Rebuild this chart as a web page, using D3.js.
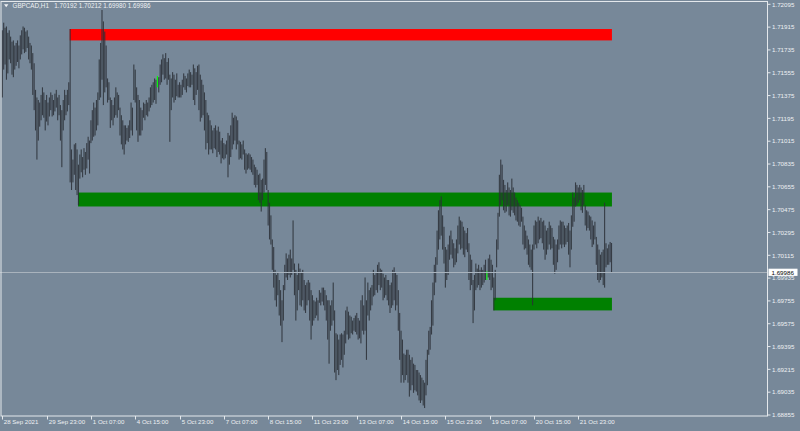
<!DOCTYPE html>
<html><head><meta charset="utf-8">
<script src="https://cdn.jsdelivr.net/npm/d3@7"></script>
<style>
html,body{margin:0;padding:0;background:#778899;}
svg{display:block;}
text{font-family:"Liberation Sans",Arial,sans-serif;}
</style></head><body>
<svg id="chart" width="800" height="431"></svg>
<script>
// ---------------- DATA ----------------
const symbolLabel = "GBPCAD,H1";
const lastOHLC = [1.70192, 1.70212, 1.69980, 1.69986];

const highs = [
1.7189,1.7195,1.7191,1.7192,1.7187,1.7189,1.7184,1.7180,1.7181,1.7177,
1.7179,1.7181,1.7177,1.7185,1.7189,1.7192,1.7191,1.7188,1.7189,1.7184,
1.7179,1.7177,1.7171,1.7163,1.7142,1.7136,1.7134,1.7132,1.7138,1.7144,
1.7140,1.7134,1.7138,1.7132,1.7136,1.7140,1.7138,1.7134,1.7139,1.7142,
1.7136,1.7138,1.7130,1.7126,1.7134,1.7142,1.7138,1.7142,1.7148,1.7190,
1.7095,1.7087,1.7099,1.7100,1.7095,1.7083,1.7091,1.7095,1.7089,1.7096,
1.7093,1.7100,1.7105,1.7102,1.7118,1.7126,1.7132,1.7128,1.7134,1.7140,
1.7166,1.7179,1.7205,1.7196,1.7188,1.7177,1.7151,1.7148,1.7136,1.7134,
1.7130,1.7136,1.7144,1.7140,1.7138,1.7128,1.7122,1.7118,1.7114,1.7114,
1.7112,1.7114,1.7118,1.7132,1.7128,1.7162,1.7158,1.7144,1.7138,1.7134,
1.7128,1.7126,1.7132,1.7131,1.7134,1.7132,1.7136,1.7144,1.7146,1.7148,
1.7151,1.7150,1.7153,1.7152,1.7162,1.7166,1.7170,1.7167,1.7171,1.7164,
1.7167,1.7154,1.7151,1.7156,1.7154,1.7150,1.7155,1.7146,1.7148,1.7146,
1.7150,1.7155,1.7153,1.7151,1.7155,1.7158,1.7156,1.7154,1.7162,1.7159,
1.7156,1.7161,1.7162,1.7154,1.7150,1.7146,1.7140,1.7134,1.7124,1.7122,
1.7118,1.7114,1.7110,1.7112,1.7114,1.7110,1.7113,1.7109,1.7102,1.7104,
1.7100,1.7099,1.7102,1.7108,1.7106,1.7114,1.7124,1.7120,1.7122,1.7121,
1.7118,1.7102,1.7101,1.7099,1.7102,1.7095,1.7092,1.7091,1.7092,1.7091,
1.7089,1.7087,1.7083,1.7081,1.7079,1.7075,1.7076,1.7071,1.7072,1.7087,
1.7096,1.7093,1.7063,1.7053,1.7043,1.7024,1.7018,1.7000,1.6996,1.6998,
1.6992,1.6984,1.6976,1.6988,1.7004,1.7013,1.7009,1.7012,1.7016,1.7009,
1.7039,1.7005,1.7000,1.6996,1.7005,1.7001,1.6998,1.7000,1.6992,1.6988,
1.6990,1.6992,1.6990,1.6984,1.6980,1.6976,1.6975,1.6978,1.6976,1.6984,
1.6982,1.6986,1.6986,1.6984,1.6980,1.6976,1.6976,1.6972,1.6976,1.6990,
1.6968,1.6950,1.6949,1.6945,1.6949,1.6950,1.6949,1.6952,1.6968,1.6971,
1.6967,1.6964,1.6963,1.6960,1.6962,1.6964,1.6966,1.6962,1.6960,1.6976,
1.6980,1.6972,1.6994,1.6976,1.6990,1.6984,1.6986,1.6988,1.7000,1.6996,
1.6998,1.7004,1.7006,1.7001,1.7000,1.6997,1.6994,1.6996,1.6992,1.6992,
1.6988,1.6990,1.7000,1.7002,1.6998,1.6996,1.6984,1.6966,1.6952,1.6945,
1.6934,1.6933,1.6937,1.6937,1.6933,1.6929,1.6931,1.6926,1.6925,1.6921,
1.6921,1.6919,1.6917,1.6915,1.6913,1.6911,1.6929,1.6937,1.6952,1.6955,
1.6976,1.6990,1.7004,1.7010,1.7031,1.7047,1.7055,1.7058,1.7043,1.7034,
1.7018,1.7016,1.7020,1.7027,1.7031,1.7024,1.7021,1.7017,1.7024,1.7035,
1.7042,1.7039,1.7038,1.7034,1.7031,1.7029,1.7033,1.7021,1.7012,1.7008,
1.6992,1.6996,1.7005,1.7001,1.7004,1.7000,1.7002,1.7000,1.7004,1.7008,
1.6999,1.7009,1.7012,1.7008,1.7004,1.6994,1.7000,1.7024,1.7045,1.7075,
1.7087,1.7083,1.7071,1.7067,1.7063,1.7069,1.7065,1.7063,1.7072,1.7065,
1.7061,1.7057,1.7055,1.7053,1.7051,1.7049,1.7042,1.7035,1.7031,1.7027,
1.7024,1.7020,1.7016,1.7020,1.7035,1.7039,1.7038,1.7042,1.7039,1.7041,
1.7038,1.7039,1.7035,1.7031,1.7033,1.7038,1.7035,1.7033,1.7026,1.7024,
1.7020,1.7024,1.7035,1.7039,1.7038,1.7038,1.7035,1.7033,1.7035,1.7037,
1.7031,1.7043,1.7061,1.7057,1.7069,1.7067,1.7065,1.7067,1.7065,1.7063,
1.7067,1.7051,1.7047,1.7046,1.7043,1.7042,1.7039,1.7035,1.7038,1.7026,
1.7020,1.7016,1.7012,1.7014,1.7016,1.7053,1.7021,1.7017,1.7020,1.7022,
1.70212];

const lows = [
1.7136,1.7158,1.7162,1.7150,1.7155,1.7166,1.7163,1.7154,1.7152,1.7158,
1.7161,1.7164,1.7159,1.7166,1.7170,1.7174,1.7171,1.7172,1.7175,1.7166,
1.7163,1.7158,1.7138,1.7126,1.7110,1.7087,1.7102,1.7113,1.7118,1.7122,
1.7120,1.7110,1.7117,1.7114,1.7121,1.7126,1.7121,1.7122,1.7125,1.7128,
1.7118,1.7122,1.7102,1.7081,1.7110,1.7118,1.7122,1.7125,1.7130,1.7069,
1.7063,1.7069,1.7075,1.7063,1.7059,1.7051,1.7072,1.7077,1.7073,1.7079,
1.7075,1.7080,1.7087,1.7076,1.7100,1.7102,1.7105,1.7106,1.7110,1.7114,
1.7134,1.7136,1.7150,1.7130,1.7140,1.7144,1.7132,1.7134,1.7112,1.7118,
1.7114,1.7120,1.7122,1.7120,1.7126,1.7106,1.7099,1.7095,1.7091,1.7099,
1.7102,1.7101,1.7104,1.7110,1.7106,1.7134,1.7132,1.7110,1.7101,1.7106,
1.7106,1.7110,1.7120,1.7118,1.7122,1.7121,1.7125,1.7128,1.7130,1.7132,
1.7134,1.7131,1.7144,1.7140,1.7146,1.7148,1.7154,1.7150,1.7151,1.7146,
1.7150,1.7101,1.7126,1.7136,1.7132,1.7134,1.7137,1.7136,1.7136,1.7136,
1.7138,1.7144,1.7142,1.7140,1.7145,1.7144,1.7144,1.7146,1.7134,1.7130,
1.7138,1.7142,1.7126,1.7117,1.7120,1.7122,1.7110,1.7095,1.7100,1.7091,
1.7095,1.7095,1.7092,1.7096,1.7095,1.7089,1.7093,1.7091,1.7084,1.7088,
1.7087,1.7088,1.7091,1.7073,1.7083,1.7089,1.7095,1.7099,1.7102,1.7095,
1.7099,1.7087,1.7088,1.7087,1.7091,1.7079,1.7076,1.7079,1.7080,1.7079,
1.7077,1.7075,1.7067,1.7065,1.7067,1.7055,1.7053,1.7046,1.7055,1.7061,
1.7067,1.7063,1.7035,1.7024,1.7020,1.7000,1.6986,1.6976,1.6971,1.6980,
1.6964,1.6956,1.6943,1.6960,1.6984,1.6994,1.6992,1.6996,1.6994,1.6996,
1.7000,1.6980,1.6960,1.6968,1.6984,1.6972,1.6971,1.6976,1.6968,1.6966,
1.6972,1.6976,1.6960,1.6945,1.6956,1.6960,1.6962,1.6964,1.6960,1.6974,
1.6972,1.6975,1.6972,1.6968,1.6960,1.6945,1.6926,1.6952,1.6956,1.6960,
1.6919,1.6913,1.6921,1.6917,1.6925,1.6929,1.6923,1.6933,1.6942,1.6949,
1.6945,1.6946,1.6950,1.6949,1.6952,1.6951,1.6949,1.6945,1.6946,1.6942,
1.6952,1.6949,1.6952,1.6929,1.6964,1.6960,1.6968,1.6972,1.6979,1.6980,
1.6984,1.6982,1.6988,1.6984,1.6986,1.6976,1.6978,1.6980,1.6976,1.6972,
1.6966,1.6970,1.6972,1.6976,1.6968,1.6972,1.6952,1.6929,1.6911,1.6917,
1.6911,1.6913,1.6917,1.6911,1.6900,1.6905,1.6909,1.6903,1.6905,1.6904,
1.6901,1.6897,1.6895,1.6897,1.6893,1.6891,1.6901,1.6909,1.6933,1.6937,
1.6949,1.6956,1.6980,1.6990,1.7004,1.7016,1.7024,1.7027,1.7016,1.7005,
1.6986,1.6992,1.6996,1.7008,1.7012,1.7009,1.7002,1.7004,1.7006,1.7013,
1.7020,1.7016,1.7017,1.7012,1.7010,1.7016,1.7014,1.6992,1.6984,1.6988,
1.6958,1.6968,1.6984,1.6986,1.6988,1.6984,1.6986,1.6988,1.6990,1.6992,
1.6992,1.6994,1.6992,1.6984,1.6986,1.6968,1.6976,1.7002,1.7016,1.7042,
1.7051,1.7055,1.7047,1.7045,1.7046,1.7051,1.7043,1.7042,1.7047,1.7045,
1.7043,1.7039,1.7038,1.7035,1.7034,1.7038,1.7020,1.7016,1.7017,1.7012,
1.7004,1.7002,1.7000,1.6972,1.7016,1.7020,1.7017,1.7021,1.7024,1.7025,
1.7021,1.7016,1.7008,1.7012,1.7016,1.7020,1.7016,1.7017,1.7004,1.6997,
1.7000,1.7006,1.7016,1.7020,1.7017,1.7020,1.7018,1.7020,1.7022,1.7012,
1.7002,1.7016,1.7034,1.7038,1.7050,1.7051,1.7053,1.7055,1.7047,1.7045,
1.7051,1.7035,1.7031,1.7033,1.7031,1.7024,1.7018,1.7020,1.7024,1.7004,
1.6992,1.6990,1.6992,1.6994,1.6988,1.6986,1.7002,1.7004,1.7004,1.7006,
1.69980];

// bars drawn in the "bar up" colour (dojis) in the reference
const limeBars = [112, 350];

// time axis (bar index -> label)
const timeTickIndex = [0, 32, 64, 96, 128, 160, 192, 224, 256, 288, 320, 352, 384, 416];
const timeTickLabels = ["28 Sep 2021","29 Sep 23:00","1 Oct 07:00","4 Oct 15:00","5 Oct 23:00",
  "7 Oct 07:00","8 Oct 15:00","11 Oct 23:00","13 Oct 07:00","14 Oct 15:00","15 Oct 23:00",
  "19 Oct 07:00","20 Oct 15:00","21 Oct 23:00"];

// price axis
const priceTicks = [1.72095,1.71915,1.71735,1.71555,1.71375,1.71195,1.71015,1.70835,1.70655,
  1.70475,1.70295,1.70115,1.69935,1.69755,1.69575,1.69395,1.69215,1.69035,1.68855];

// supply / demand zones
const zoneStartBar = [49, 55, 355];
const zoneEndBar = [440, 440, 440];
const zoneTop = [1.7190, 1.7061, 1.6978];
const zoneBottom = [1.7181, 1.7050, 1.6968];
const zoneKind = ["supply", "demand", "demand"];

// ---------------- STYLE ----------------
const BG = "#778899", BAR = "#2a2f36", LIME = "#00ff00", FRAME = "#e4e8ec", TXT = "#eef0f3";
const zoneColor = {supply: "#ff0000", demand: "#008000"};
const W = 800, H = 431, right = 767.5, bottom = 416;

const svg = d3.select("#chart");
svg.append("rect").attr("width", W).attr("height", H).attr("fill", BG);

const x = d3.scaleLinear().domain([0, 416]).range([2.3, 578.3]);
const y = d3.scaleLinear().domain([1.68855, 1.72095]).range([415, 4.3]);

const plot = svg.append("g");

// zones (behind bars)
plot.selectAll("rect.zone").data(zoneKind).join("rect")
  .attr("class", "zone")
  .attr("x", (d, i) => x(zoneStartBar[i]) - 0.4)
  .attr("width", (d, i) => x(zoneEndBar[i]) - x(zoneStartBar[i]) + 0.8)
  .attr("y", (d, i) => y(zoneTop[i]))
  .attr("height", (d, i) => y(zoneBottom[i]) - y(zoneTop[i]))
  .attr("fill", d => zoneColor[d]);

// bars
plot.selectAll("rect.bar").data(highs).join("rect")
  .attr("class", "bar")
  .attr("x", (d, i) => x(i) - 0.55)
  .attr("width", 1.1)
  .attr("y", (d, i) => y(d))
  .attr("height", (d, i) => Math.max(1, y(lows[i]) - y(d)))
  .attr("fill", (d, i) => limeBars.includes(i) ? LIME : BAR)
  .attr("fill-opacity", (d, i) => limeBars.includes(i) ? 1 : 0.85);

// current price line
const yLast = Math.round(y(lastOHLC[3])) + 0.5;
svg.append("line").attr("x1", 0).attr("x2", right).attr("y1", yLast).attr("y2", yLast)
  .attr("stroke", "#a9b3bd").attr("stroke-width", 1);

// frame
svg.append("rect").attr("x", 1).attr("y", 1.5).attr("width", right - 1).attr("height", bottom - 1.5)
  .attr("fill", "none").attr("stroke", FRAME).attr("stroke-width", 1);

// price axis
const yAxis = svg.append("g");
priceTicks.forEach(t => {
  const yy = y(t);
  yAxis.append("line").attr("x1", right).attr("x2", right + 3).attr("y1", yy).attr("y2", yy)
    .attr("stroke", FRAME);
  yAxis.append("text").attr("x", 772).attr("y", yy).attr("dy", "0.36em")
    .attr("font-size", 6.2).attr("fill", TXT).text(t.toFixed(5));
});

// current price box
svg.append("rect").attr("x", 768.5).attr("y", yLast - 3.8).attr("width", 29).attr("height", 7.2)
  .attr("fill", "#ffffff");
svg.append("text").attr("x", 771.5).attr("y", yLast).attr("dy", "0.36em")
  .attr("font-size", 6.2).attr("fill", "#000").text(lastOHLC[3].toFixed(5));

// time axis
const xAxis = svg.append("g");
timeTickIndex.forEach((b, i) => {
  const xx = Math.round(x(b)) + 0.5;
  xAxis.append("line").attr("x1", xx).attr("x2", xx).attr("y1", bottom).attr("y2", bottom + 3.5)
    .attr("stroke", FRAME);
  xAxis.append("text").attr("x", xx + 1.3).attr("y", 424)
    .attr("font-size", 6.1).attr("fill", TXT).text(timeTickLabels[i]);
});

// header
svg.append("path").attr("d", "M4,4.2 L8.4,4.2 L6.2,7.2 Z").attr("fill", TXT);
svg.append("text").attr("x", 12.5).attr("y", 8.3).attr("font-size", 6.3).attr("fill", TXT)
  .text(symbolLabel);
svg.append("text").attr("x", 54.3).attr("y", 8.3).attr("font-size", 6.3).attr("fill", TXT)
  .text(lastOHLC.map(v => v.toFixed(5)).join(" "));
</script>
</body></html>
